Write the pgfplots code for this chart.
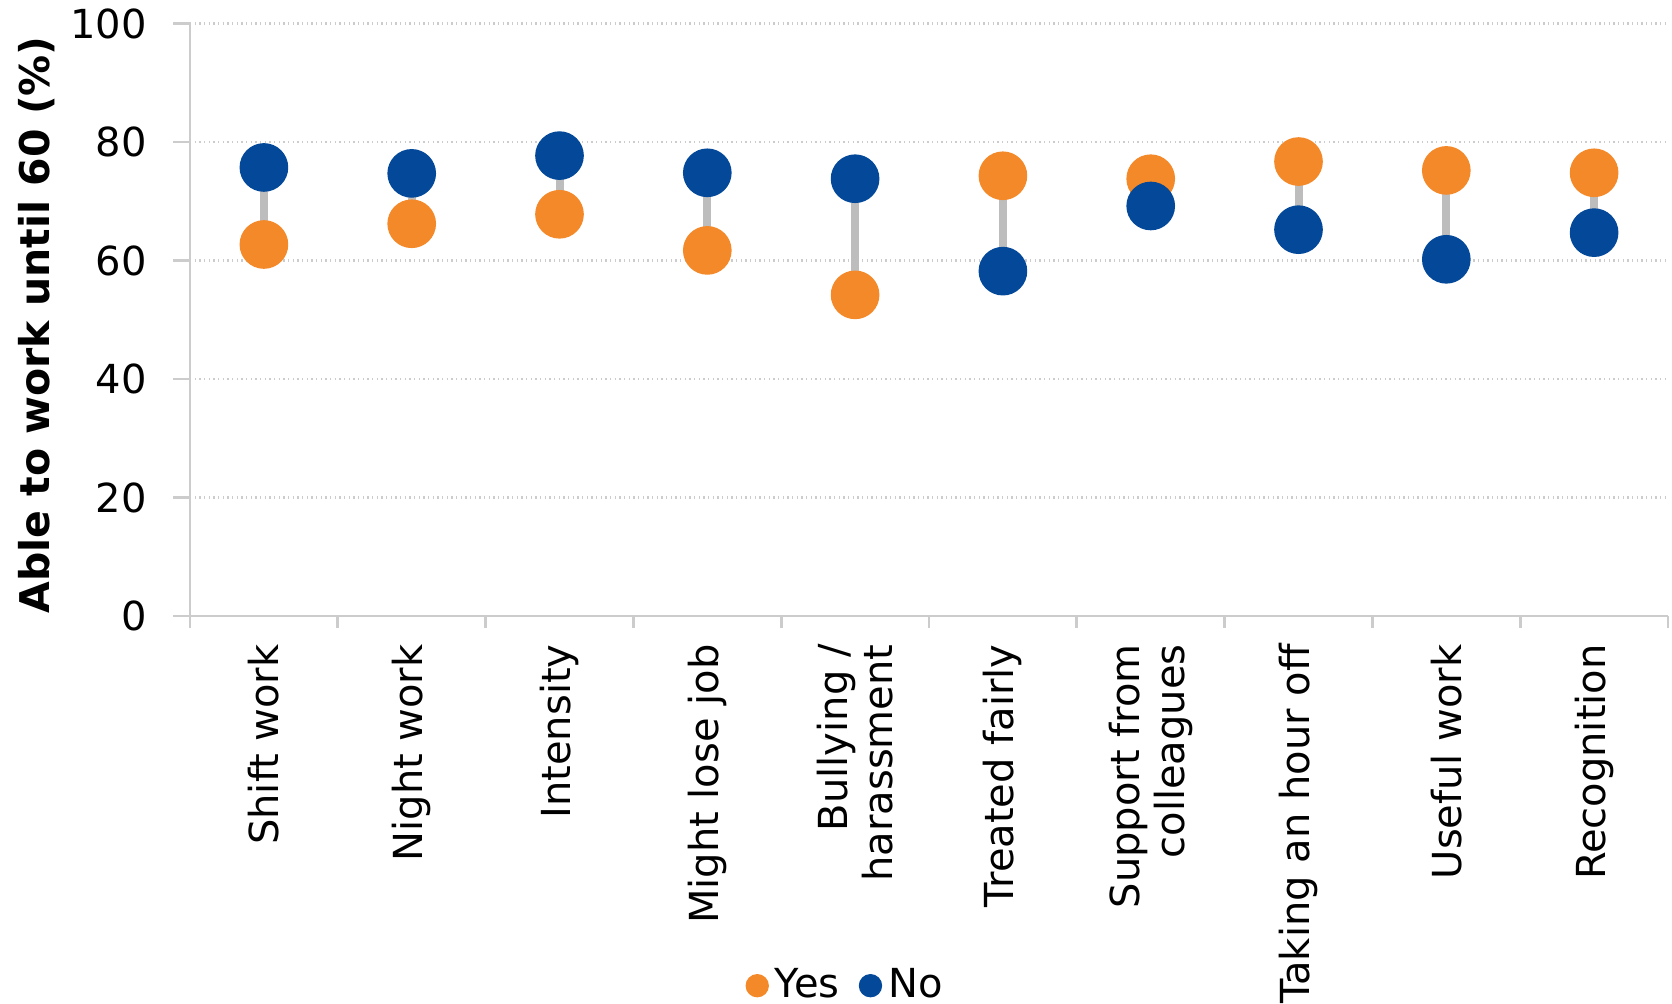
\documentclass[border=0pt]{standalone}
\usepackage{fontspec}
\setmainfont{DejaVu Sans}
\usepackage{pgfplots}
\usepackage{pgfplotstable}
\pgfplotsset{compat=1.18}

\definecolor{yesorange}{HTML}{F4892A}
\definecolor{noblue}{HTML}{034899}
\definecolor{gridgray}{HTML}{CCCCCC}
\definecolor{linkgray}{HTML}{BDBDBD}

% Share able to work until 60, by exposure (Yes / No)
\pgfplotstableread{
x yes no
0 62.7 75.7
1 66.2 74.7
2 67.8 77.7
3 61.7 74.8
4 54.2 73.8
5 74.3 58.2
6 73.8 69.2
7 76.7 65.2
8 75.2 60.2
9 74.8 64.7
}\survey

\begin{document}
\begin{tikzpicture}
\useasboundingbox (-57pt,-116.4pt) rectangle (444.6pt,184.8pt);
\begin{axis}[
  at={(0,0)}, anchor=south west,
  scale only axis, width=443.4pt, height=177.75pt,
  xmin=-0.5, xmax=9.5, ymin=0, ymax=100,
  axis x line=bottom, axis y line=left,
  axis line style={gridgray, line width=0.8pt, -},
  ytick={0,20,...,100},
  ymajorgrids,
  major grid style={gridgray, densely dotted, line width=0.8pt},
  xtick={0,...,9},
  minor xtick={-0.5,0.5,...,9.5},
  tick align=outside,
  major x tick style={draw=none},
  major y tick style={gridgray, line width=0.8pt},
  minor x tick style={gridgray, line width=0.8pt},
  major tick length=5pt,
  minor tick length=3.6pt,
  xticklabels={Shift work, Night work, Intensity, Might lose job,
    {Bullying /\\harassment}, Treated fairly, {Support from\\colleagues},
    Taking an hour off, Useful work, Recognition},
  x tick label style={rotate=90, anchor=east, align=right, font=\fontsize{12}{13.5}\selectfont},
  y tick label style={font=\fontsize{12}{14}\selectfont, xshift=-4.5pt},
  /pgf/number format/assume math mode=true,
  ylabel={Able to work until 60 (\%)},
  ylabel style={at={(axis description cs:-0.1035,0.491)}, anchor=center,
    font=\fontsize{12.3}{14}\selectfont\bfseries},
  legend columns=2,
  legend style={at={(axis description cs:0.445,-0.624)}, anchor=center,
    draw=none, fill=none, font=\fontsize{12}{14}\selectfont,
    /tikz/every even column/.append style={column sep=4pt}},
  clip=false,
]
% connectors between the two answers
\addplot[only marks, mark=none, forget plot,
  error bars/.cd, y dir=plus, y explicit, error mark=none,
  error bar style={linkgray, line width=2.4pt}]
  table[x=x, y=yes, y error expr=\thisrow{no}-\thisrow{yes}] {\survey};
\addplot[yesorange, only marks, mark=*, mark size=7.1pt,
  mark options={draw=yesorange, fill=yesorange},
  legend image post style={mark size=3.3pt}]
  table[x=x, y=yes] {\survey};
\addplot[noblue, only marks, mark=*, mark size=7.1pt,
  mark options={draw=noblue, fill=noblue},
  legend image post style={mark size=3.3pt}]
  table[x=x, y=no] {\survey};
\legend{Yes, No}
\end{axis}
\end{tikzpicture}
\end{document}
